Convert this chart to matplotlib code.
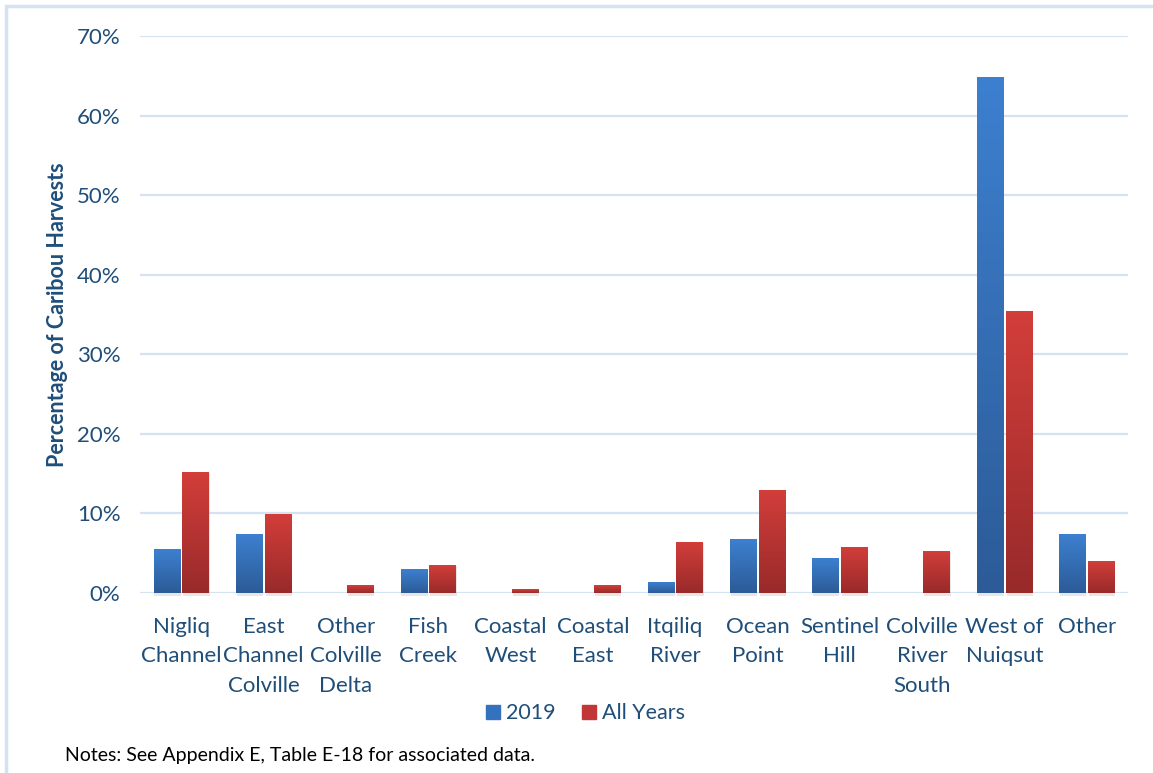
import matplotlib.pyplot as plt
import numpy as np
from matplotlib.colors import LinearSegmentedColormap
from matplotlib.patches import Rectangle
from matplotlib.ticker import PercentFormatter

categories = ["Nigliq\nChannel", "East\nChannel\nColville", "Other\nColville\nDelta", "Fish\nCreek",
              "Coastal\nWest", "Coastal\nEast", "Itqiliq\nRiver", "Ocean\nPoint", "Sentinel\nHill",
              "Colville\nRiver\nSouth", "West of\nNuiqsut", "Other"]
values_2019 = [5.5, 7.3, 0.0, 3.0, 0.0, 0.0, 1.3, 6.7, 4.3, 0.0, 64.8, 7.3]
values_all = [15.2, 9.9, 0.9, 3.5, 0.4, 0.9, 6.4, 12.9, 5.7, 5.2, 35.4, 4.0]
series_names = ["2019", "All Years"]

text_color = "#1F4E79"
plt.rcParams["font.family"] = ["Lato", "DejaVu Sans"]

# gradient colormaps (bottom -> top)
blue_cmap = LinearSegmentedColormap.from_list("b", ["#2C5B97", "#3D80D0"])
red_cmap = LinearSegmentedColormap.from_list("r", ["#982A2A", "#D23E3A"])

fig = plt.figure(figsize=(11.53, 7.73), dpi=100)
ax = fig.add_axes([0.1214, 0.2329, 0.8569, 0.7205])

# outer light-blue border
fig.patches.append(Rectangle((0.005, -0.01), 1.2, 1.0023, transform=fig.transFigure,
                             fill=False, edgecolor="#D5E2F2", linewidth=2.5))

x = np.arange(len(categories))
width = 0.32
gap = 0.03
offsets = [-(width + gap) / 2, (width + gap) / 2]
grad = np.linspace(0, 1, 256).reshape(-1, 1)

for vals, off, cmap in [(values_2019, offsets[0], blue_cmap), (values_all, offsets[1], red_cmap)]:
    for xi, v in zip(x, vals):
        if v <= 0:
            continue
        x0 = xi + off - width / 2
        # soft shadow
        ax.add_patch(Rectangle((x0 + 0.01, -0.4), width, v + 0.3,
                               facecolor="#888888", alpha=0.2, edgecolor="none", zorder=2,
                               clip_on=False))
        ax.imshow(grad, extent=[x0, x0 + width, 0, v], origin="lower", aspect="auto",
                  cmap=cmap, zorder=3, interpolation="bilinear")

ax.set_xlim(-0.5, len(categories) - 0.5)
ax.set_ylim(0, 70)
ax.set_yticks(np.arange(0, 71, 10))
ax.yaxis.set_major_formatter(PercentFormatter(decimals=0))
ax.grid(axis="y", color="#D5E2F2", linewidth=1.6, zorder=0)
ax.set_axisbelow(True)
for s in ax.spines.values():
    s.set_visible(False)

ax.set_xticks(x)
ax.set_xticklabels(categories, fontsize=16, color=text_color, linespacing=1.62, va="top")
ax.tick_params(axis="x", length=0, pad=17)
ax.tick_params(axis="y", length=0, pad=14, labelsize=16, labelcolor=text_color)

fig.text(0.05, 0.593, "Percentage of Caribou Harvests", rotation=90, ha="center", va="center",
         fontsize=15.5, fontweight="bold", color=text_color)

handles = [Rectangle((0, 0), 1, 1, color="#3572BD"), Rectangle((0, 0), 1, 1, color="#C13636")]
fig.legend(handles, series_names, loc="center", bbox_to_anchor=(0.508, 0.077), ncol=2,
           frameon=False, fontsize=15.5, handlelength=0.65, handleheight=0.65,
           handletextpad=0.3, columnspacing=1.2, labelcolor=text_color)

fig.text(0.056, 0.023, "Notes: See Appendix E, Table E-18 for associated data.",
         fontsize=14, color="black", ha="left", va="center")

fig.savefig("out.png", dpi=100)
